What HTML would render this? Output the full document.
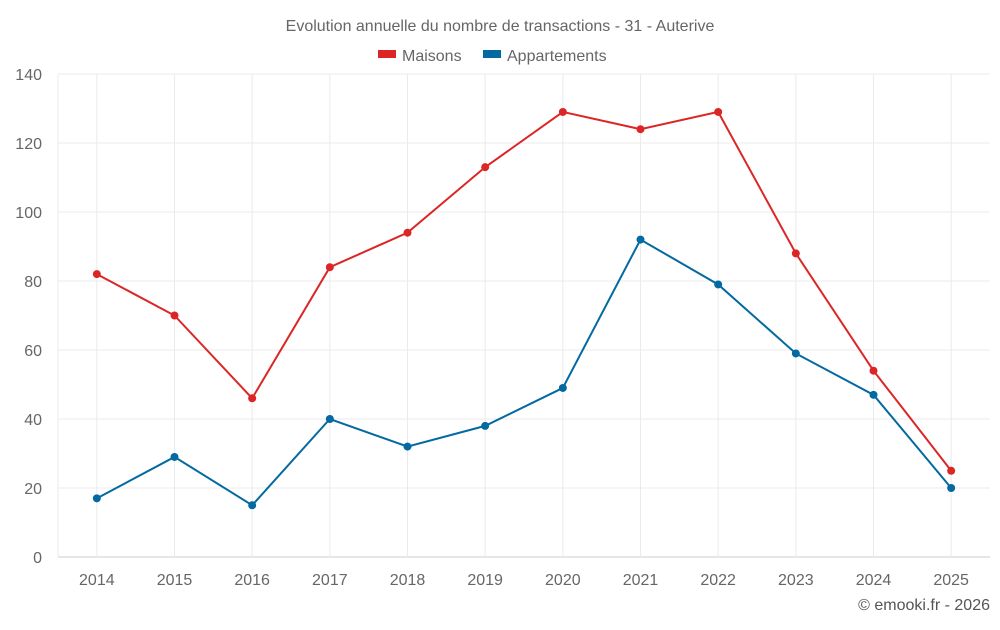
<!DOCTYPE html>
<html><head><meta charset="utf-8">
<style>
body{margin:0;background:#fff;font-family:"Liberation Sans",sans-serif;}
svg text{font-family:"Liberation Sans",sans-serif;}
</style></head>
<body>
<svg id="chart" width="1000" height="625" xmlns="http://www.w3.org/2000/svg">
<text x="500" y="31" text-anchor="middle" font-size="16" fill="#666">Evolution annuelle du nombre de transactions - 31 - Auterive</text>
<g><rect x="378" y="50" width="18" height="8" fill="#dc2626"/><text x="402" y="61" font-size="16" fill="#666">Maisons</text></g>
<g><rect x="483" y="50" width="18" height="8" fill="#0369a1"/><text x="507" y="61" font-size="16" fill="#666">Appartements</text></g>
<g id="grid"></g><g id="axes"></g><g id="series"></g>
<text x="990" y="610" text-anchor="end" font-size="16" fill="#555">© emooki.fr - 2026</text>
</svg>
<script>
const years=["2014","2015","2016","2017","2018","2019","2020","2021","2022","2023","2024","2025"];
const maisons=[82,70,46,84,94,113,129,124,129,88,54,25];
const appartements=[17,29,15,40,32,38,49,92,79,59,47,20];
const yTicks=[0,20,40,60,80,100,120,140];
const L=58,R=990,T=74,B=557,yMax=140;
const NS="http://www.w3.org/2000/svg";
const bw=(R-L)/years.length;
function xs(i){return L+bw*(i+0.5);}
function ys(v){return B-(v/yMax)*(B-T);}
function mk(tag,attrs,parent){const e=document.createElementNS(NS,tag);for(const k in attrs)e.setAttribute(k,attrs[k]);parent.appendChild(e);return e;}
const grid=document.getElementById('grid'),axes=document.getElementById('axes'),ser=document.getElementById('series');
yTicks.forEach(t=>{
 const ln=mk('line',{x1:L,x2:R,y1:ys(t),y2:ys(t),stroke:t===0?'#ccc':'#ebebeb','stroke-width':1},grid);
 
 
 const tx=mk('text',{x:L-16,y:ys(t)+6,'text-anchor':'end','font-size':16,fill:'#666'},axes);
 tx.textContent=t;
 
 
});
years.forEach((y,i)=>{
 const ln=mk('line',{x1:xs(i),x2:xs(i),y1:T,y2:B,stroke:'#ebebeb'},grid);
 
 
 const tx=mk('text',{x:xs(i),y:B+28,'text-anchor':'middle','font-size':16,fill:'#666'},axes);
 tx.textContent=y;
 
 
});
const la=mk('line',{x1:L,x2:L,y1:T,y2:B,stroke:'#ebebeb'},grid);


function draw(data,color,name){
 const p=mk('polyline',{points:data.map((v,i)=>xs(i)+','+ys(v)).join(' '),fill:'none',stroke:color,'stroke-width':2},ser);
 
 
 data.forEach((v,i)=>{
  const c=mk('circle',{cx:xs(i),cy:ys(v),r:4,fill:color},ser);
  
  
 });
}
draw(maisons,'#dc2626','maisons');
draw(appartements,'#0369a1','appartements');
</script>
</body></html>
